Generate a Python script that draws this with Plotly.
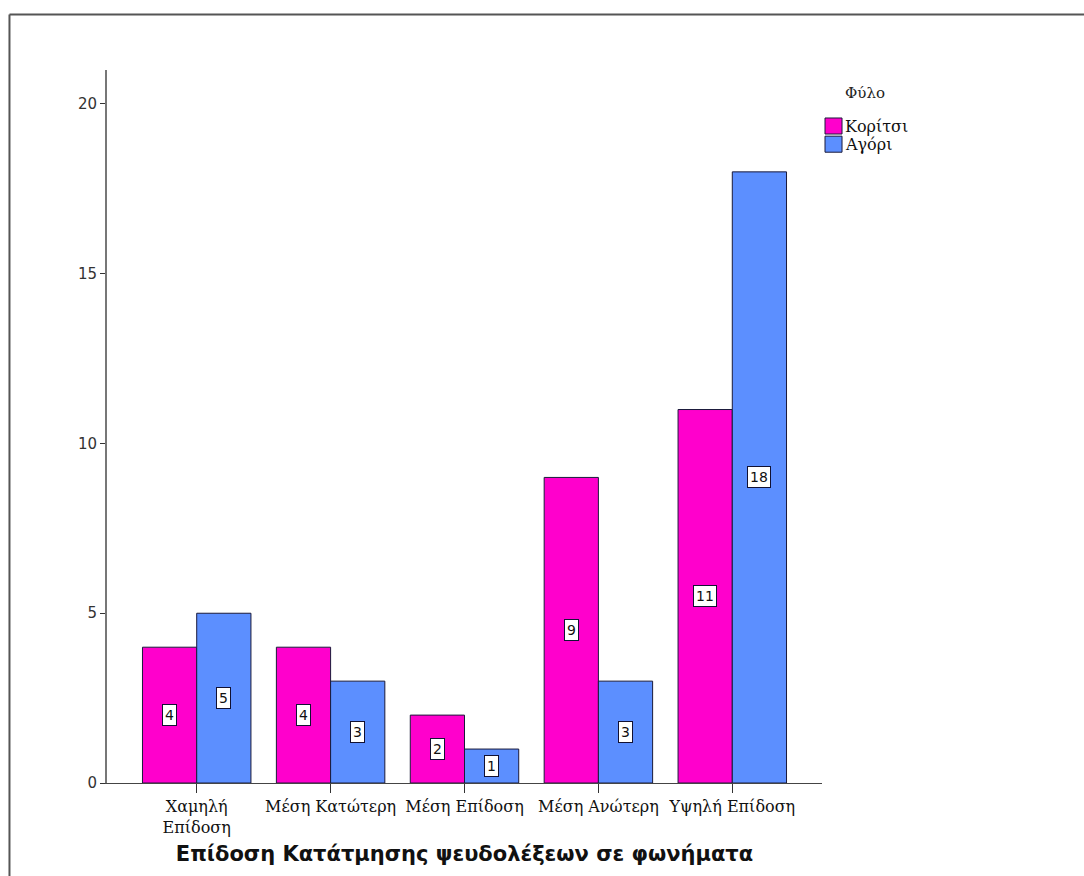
import plotly.graph_objects as go

categories = ["Χαμηλή<br>Επίδοση", "Μέση Κατώτερη", "Μέση Επίδοση", "Μέση Ανώτερη", "Υψηλή Επίδοση"]
girls = [4, 4, 2, 9, 11]
boys = [5, 3, 1, 3, 18]
series_names = ["Κορίτσι", "Αγόρι"]
series_colors = ["#FF00CC", "#5C8FFF"]
legend_title = "Φύλο"
y_ticks = [0, 5, 10, 15, 20]

bargap = 0.19
bar_w = (1 - bargap) / 2
xs = list(range(len(categories)))
edge = "#1a1a3a"

fig = go.Figure()
for name, vals, col in zip(series_names, [girls, boys], series_colors):
    fig.add_trace(go.Bar(
        x=xs, y=vals, name=name,
        marker=dict(color=col, line=dict(color=edge, width=1)),
    ))

# value labels in white boxes at the middle of each bar
for k, vals in enumerate([girls, boys]):
    off = (-0.5 + k) * bar_w
    for i, v in enumerate(vals):
        fig.add_annotation(
            x=i + off, y=v / 2, text=str(v), showarrow=False,
            font=dict(family="DejaVu Sans", size=14, color="#111"),
            bgcolor="white", bordercolor="#111133", borderwidth=1, borderpad=2,
        )

# hand-placed legend: stacked swatches with serif labels
sw_x0, sw_x1 = 1.0042, 1.028
sw_top, sw_h = 0.9327, 0.0225
fig.add_annotation(xref="paper", yref="paper", x=1.0294, y=0.9677,
                   text=legend_title, showarrow=False, xanchor="left", yanchor="middle",
                   font=dict(family="DejaVu Serif", size=15, color="#222"))
for j, (name, col) in enumerate(zip(series_names, series_colors)):
    y1 = sw_top - j * (sw_h + 0.003)
    y0 = y1 - sw_h
    fig.add_shape(type="rect", xref="paper", yref="paper",
                  x0=sw_x0, x1=sw_x1, y0=y0, y1=y1,
                  fillcolor=col, line=dict(color=edge, width=1))
    fig.add_annotation(xref="paper", yref="paper", x=sw_x1 + 0.002, y=(y0 + y1) / 2,
                       text=name, showarrow=False, xanchor="left", yanchor="middle",
                       font=dict(family="DejaVu Serif", size=16, color="#111"))

# outer frame lines
fig.add_shape(type="line", xref="paper", yref="paper",
              x0=-0.1364, x1=1.5, y0=1.0778, y1=1.0778,
              line=dict(color="#555", width=2))
fig.add_shape(type="line", xref="paper", yref="paper",
              x0=-0.1364, x1=-0.1364, y0=1.0778, y1=-0.3,
              line=dict(color="#555", width=2))

fig.update_layout(
    width=1084, height=876,
    margin=dict(l=107, r=262, t=70, b=93),
    paper_bgcolor="white", plot_bgcolor="white",
    barmode="group", bargap=bargap, bargroupgap=0,
    showlegend=False,
    xaxis=dict(
        range=[-0.67, len(categories) - 1 + 0.67],
        tickvals=xs, ticktext=categories,
        tickfont=dict(family="DejaVu Serif", size=16, color="#111"),
        ticks="outside", ticklen=9, tickcolor="#333",
        showline=True, linecolor="#444", linewidth=1,
        showgrid=False, zeroline=False,
        title=dict(text="<b>Επίδοση Κατάτμησης ψευδολέξεων σε φωνήματα</b>",
                   font=dict(family="DejaVu Sans", size=21, color="#111"),
                   standoff=10),
    ),
    yaxis=dict(
        range=[0, 21], tickvals=y_ticks,
        tickfont=dict(family="DejaVu Sans", size=15, color="#333"),
        ticks="outside", ticklen=5, tickcolor="#333",
        showline=True, linecolor="#777", linewidth=2,
        showgrid=False, zeroline=False,
    ),
)

fig.write_html("out.html")
